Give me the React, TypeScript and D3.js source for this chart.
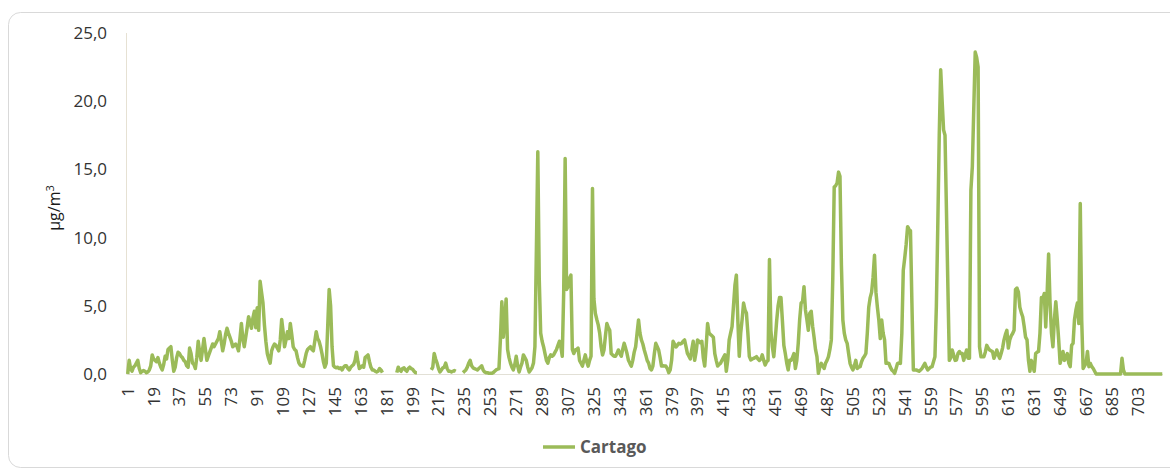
import React, { useEffect } from "react";
import * as d3 from "d3";

// Cartago daily values (µg/m3); null = no data
const cartagoA = [
  0.0, 1.0, 0.4, 0.2, 0.5, 0.6, 0.8, 1.0, 0.4, 0.1,
  0.2, 0.25, 0.2, 0.1, 0.15, 0.3, 0.6, 1.4, 1.1, 1.0,
  0.9, 1.2, 0.8, 0.5, 0.3, 0.7, 1.3, 1.1, 1.8, 1.9,
  2.0, 1.0, 0.2, 0.5, 1.2, 1.6, 1.5, 1.3, 1.2, 1.0,
  0.9, 0.6, 0.5, 1.9, 1.5, 0.8, 0.7, 0.4, 1.2, 2.4,
  1.6, 1.0, 1.8, 2.6, 1.8, 1.0, 1.3, 1.6, 1.9, 2.2,
  2.0, 2.2, 2.4, 2.6, 3.1, 2.4, 1.7, 2.2, 2.9, 3.35,
  3.0, 2.7, 2.4, 2.0, 2.1, 2.2, 2.0, 1.7, 2.6, 3.7,
  2.6, 2.0, 2.7, 3.4, 4.2, 3.8, 3.35, 4.1, 4.6, 3.4,
  4.85, 3.2, 6.8, 6.0, 5.2, 3.6, 2.4, 1.5, 1.1, 0.8,
  1.7, 2.0, 2.2, 2.1, 1.9, 1.7, 2.5, 4.0, 3.1, 2.0,
  2.5, 3.1, 2.6, 3.7, 2.9, 2.0, 1.8, 1.7, 1.2, 0.8,
  0.65, 0.6, 0.55, 1.0, 1.5, 1.8, 1.9, 2.0, 1.8, 1.7,
  2.4, 3.1, 2.6, 2.4, 2.0, 1.5, 0.9, 0.5, 0.8, 3.5,
  6.2, 5.0, 2.0, 0.6, 0.5,
];

const cartagoB = [
  0.45, 0.5, 0.4, 0.45, 0.3, 0.5, 0.6, 0.6, 0.4, 0.3,
  0.5, 0.6, 0.7, 1.0, 1.6, 0.9, 0.4, 0.5, 0.6, 0.5,
  1.2, 1.3, 1.4, 0.9, 0.5, 0.3, 0.3, 0.2, 0.15, 0.2,
  0.4, 0.3, 0.1, null, null, null, null, null, null, null,
  null, null, 0.1, 0.5, 0.3, 0.2, 0.4, 0.45, 0.3, 0.2,
  0.4, 0.5, 0.4, 0.35, 0.2, 0.1, 0.1, null, null, null,
  null, null, null, null, null, null, 0.3, 0.5, 1.5, 1.1,
  0.8, 0.4, 0.15, 0.3, 0.45, 0.5, 0.8, 0.4, 0.2, 0.2,
  0.15, 0.2, 0.25, 0.2, null, null, null, null, 0.1, 0.2,
  0.3, 0.5, 0.8, 1.0, 0.6, 0.45, 0.4, 0.35, 0.3, 0.4,
  0.5, 0.6, 0.3, 0.15, 0.1, 0.1, 0.05, 0.05, 0.05, 0.1,
  0.2, 0.3, 0.35, 0.4, 2.5, 5.3, 2.7, 4.0, 5.5, 1.8,
  1.2, 0.8, 0.5, 0.3, 0.7, 1.3, 0.6, 0.15, 0.5, 0.8,
  1.4, 1.2, 1.0, 0.5, 0.15, 0.3, 0.45, 0.8, 2.0, 9.0,
  16.3, 7.0, 3.0, 2.4,
];

const cartagoC = [
  2.0, 1.5, 1.0, 0.8, 1.2, 1.4, 1.3, 1.4, 1.6, 1.8,
  2.1, 2.4, 2.0, 1.3, 6.0, 15.8, 6.2, 6.4, 7.0, 7.25,
  1.8, 1.5, 1.76, 1.8, 1.9, 1.0, 0.8, 0.58, 1.0, 1.4,
  0.9, 0.58, 1.0, 1.3, 13.6, 5.5, 4.45, 4.0, 3.6, 3.0,
  2.0, 1.4, 1.76, 2.8, 3.7, 3.4, 3.2, 1.5, 1.4, 1.3,
  1.3, 1.5, 1.76, 1.5, 1.3, 1.8, 2.25, 1.9, 1.5, 1.0,
  0.78, 0.58, 1.0, 1.6, 2.0, 3.0, 3.96, 3.0, 2.5, 2.2,
  1.76, 1.4, 1.0, 0.8, 0.4, 0.3, 0.6, 1.5, 2.25, 2.0,
  1.76, 1.2, 0.58, 0.6, 0.58, 0.58, 0.4, 0.1, 0.3, 1.0,
  2.4, 2.2, 1.98, 2.1, 2.25, 2.2, 2.25, 2.4, 2.5, 2.0,
  1.5, 1.3, 1.1, 1.8, 2.4, 1.0, 1.6, 2.5, 2.4, 2.3,
  2.4, 1.2, 0.58, 2.0, 3.7, 3.0, 2.9, 2.8, 2.7, 1.5,
  1.0, 0.58, 0.7, 0.78, 1.0, 1.2, 1.4, 0.2, 1.0, 2.5,
  3.0, 3.47, 5.0, 6.5, 7.25, 4.0, 1.3, 3.0, 4.0, 5.2,
  4.7, 4.45, 3.0, 1.3,
];

const cartagoD = [
  1.03, 1.1, 1.15, 1.2, 1.27, 1.1, 1.0, 1.1, 1.4, 1.0,
  0.66, 0.9, 1.0, 8.4, 3.2, 2.0, 1.27, 2.5, 3.9, 5.0,
  5.6, 5.6, 3.9, 2.1, 1.5, 0.8, 0.3, 1.0, 1.0, 1.2,
  1.5, 0.4, 1.0, 2.25, 4.0, 5.2, 5.3, 6.4, 4.7, 4.0,
  3.2, 4.45, 4.6, 3.5, 2.7, 1.8, 1.27, 0.05, 0.5, 0.78,
  0.6, 0.4, 0.8, 1.0, 1.27, 1.8, 2.5, 7.0, 13.7, 13.8,
  14.0, 14.8, 14.5, 8.0, 3.96, 3.0, 2.5, 2.25, 1.5, 0.78,
  0.5, 0.3, 0.6, 1.0, 0.4, 0.5, 0.54, 0.9, 1.15, 1.3,
  1.5, 3.0, 4.9, 5.6, 6.0, 7.1, 8.7, 6.0, 4.9, 3.96,
  2.6, 3.96, 3.0, 2.5, 0.78, 0.8, 0.78, 0.5, 0.3, 0.2,
  0.05, 0.4, 0.78, 0.8, 0.78, 3.0, 7.6, 8.5, 9.5, 10.8,
  10.6, 10.5, 5.2, 0.3, 0.3, 0.3, 0.25, 0.2, 0.3, 0.4,
  0.6, 0.78, 0.5, 0.3, 0.4, 0.5, 0.54, 0.9, 1.27, 5.0,
  11.0, 17.5, 22.3, 20.0, 17.9, 17.5, 12.0, 6.4, 1.0, 1.2,
  1.76, 1.4, 1.0, 1.03, 1.5,
];

const cartagoE = [
  1.65, 1.5, 1.5, 1.0, 1.4, 1.76, 1.15, 1.15, 13.5, 15.2,
  19.5, 23.6, 23.2, 22.5, 2.0, 1.27, 1.27, 1.27, 1.6, 2.1,
  1.9, 1.76, 1.7, 1.65, 1.15, 1.4, 1.76, 1.4, 1.15, 1.5,
  1.9, 2.5, 2.9, 3.2, 1.9, 2.5, 2.8, 2.97, 3.2, 6.2,
  6.3, 6.0, 4.9, 4.5, 4.2, 3.5, 2.7, 2.5, 1.0, 0.2,
  1.0, 0.6, 0.2, 1.5, 1.6, 1.65, 3.0, 5.6, 5.5, 5.9,
  3.45, 6.0, 8.8, 5.2, 3.0, 2.0, 3.96, 5.3, 4.0, 2.5,
  0.78, 1.2, 1.65, 1.0, 1.2, 1.5, 0.8, 0.54, 2.1, 2.25,
  4.0, 4.7, 5.2, 3.7, 12.5, 3.96, 0.4, 0.6, 0.78, 1.65,
  0.54, 0.78, 0.54, 0.4, 0.2, 0, 0, 0, 0, 0,
  0, 0, 0, 0, 0, 0, 0, 0, 0, 0,
  0, 0, 0, 1.15, 0.3, 0, 0, 0, 0, 0,
  0, 0, 0, 0, 0, 0, 0, 0, 0, 0,
  0, 0, 0, 0, 0, 0, 0, 0, 0, 0,
  0, 0,
];

const cartago: (number | null)[] = [...cartagoA, ...cartagoB, ...cartagoC, ...cartagoD, ...cartagoE];
const days = cartago.map((_, i) => i + 1);

const xTickLabels = [
  1, 19, 37, 55, 73, 91, 109, 127, 145, 163, 181, 199, 217, 235, 253, 271, 289, 307, 325, 343,
  361, 379, 397, 415, 433, 451, 469, 487, 505, 523, 541, 559, 577, 595, 613, 631, 649, 667, 685, 703,
];
const yTicks = [0, 5, 10, 15, 20, 25];

const W = 1170;
const H = 469;
const plot = { left: 127, right: 1163, top: 33, bottom: 374 };
const font = "'Open Sans', 'Noto Sans', sans-serif";

export default function App() {
  useEffect(() => {
    document.body.style.margin = "0";
  }, []);

  const x = d3.scaleBand<number>().domain(days).range([plot.left, plot.right]).padding(0);
  const bw = x.bandwidth();
  const cx = (d: number) => (x(d) as number) + bw / 2;
  const y = d3.scaleLinear().domain([0, 25]).range([plot.bottom, plot.top]);
  const fmt = (v: number) => d3.format(".1f")(v).replace(".", ",");

  const line = d3
    .line<number | null>()
    .defined((d) => d != null)
    .x((_, i) => cx(days[i]))
    .y((d) => y(d as number));

  return (
    <svg width={W} height={H} style={{ display: "block" }} fontFamily={font}>
      <rect x={8.5} y={12.5} width={1180} height={455} rx={12} fill="#fff" stroke="#d9d9d9" />

      {/* axes */}
      <line x1={plot.left - 0.5} x2={plot.left - 0.5} y1={plot.top} y2={plot.bottom} stroke="#e6e1d3" />
      <line x1={plot.left - 0.5} x2={plot.right} y1={plot.bottom + 0.5} y2={plot.bottom + 0.5} stroke="#e2e0d6" />

      {yTicks.map((t) => (
        <text key={t} x={107} y={y(t)} dy="0.35em" textAnchor="end" fontSize={17} fill="#333">
          {fmt(t)}
        </text>
      ))}

      {xTickLabels.map((t) => (
        <text
          key={t}
          transform={`translate(${cx(t)},${plot.bottom + 13}) rotate(-90)`}
          dy="0.35em"
          textAnchor="end"
          fontSize={17}
          fill="#333"
        >
          {t}
        </text>
      ))}

      <text transform="translate(60,208) rotate(-90)" textAnchor="middle" fontSize={16} fill="#1a1a1a">
        μg/m<tspan dy="-6" fontSize={11}>3</tspan>
      </text>

      <path d={line(cartago) ?? ""} fill="none" stroke="#9bbb59" strokeWidth={3.5} strokeLinejoin="round" />

      {/* legend */}
      <line x1={543} x2={575} y1={447} y2={447} stroke="#9bbb59" strokeWidth={3.5} />
      <text x={580} y={447} dy="0.35em" fontSize={17} fontWeight={700} fill="#595959">
        Cartago
      </text>
    </svg>
  );
}
